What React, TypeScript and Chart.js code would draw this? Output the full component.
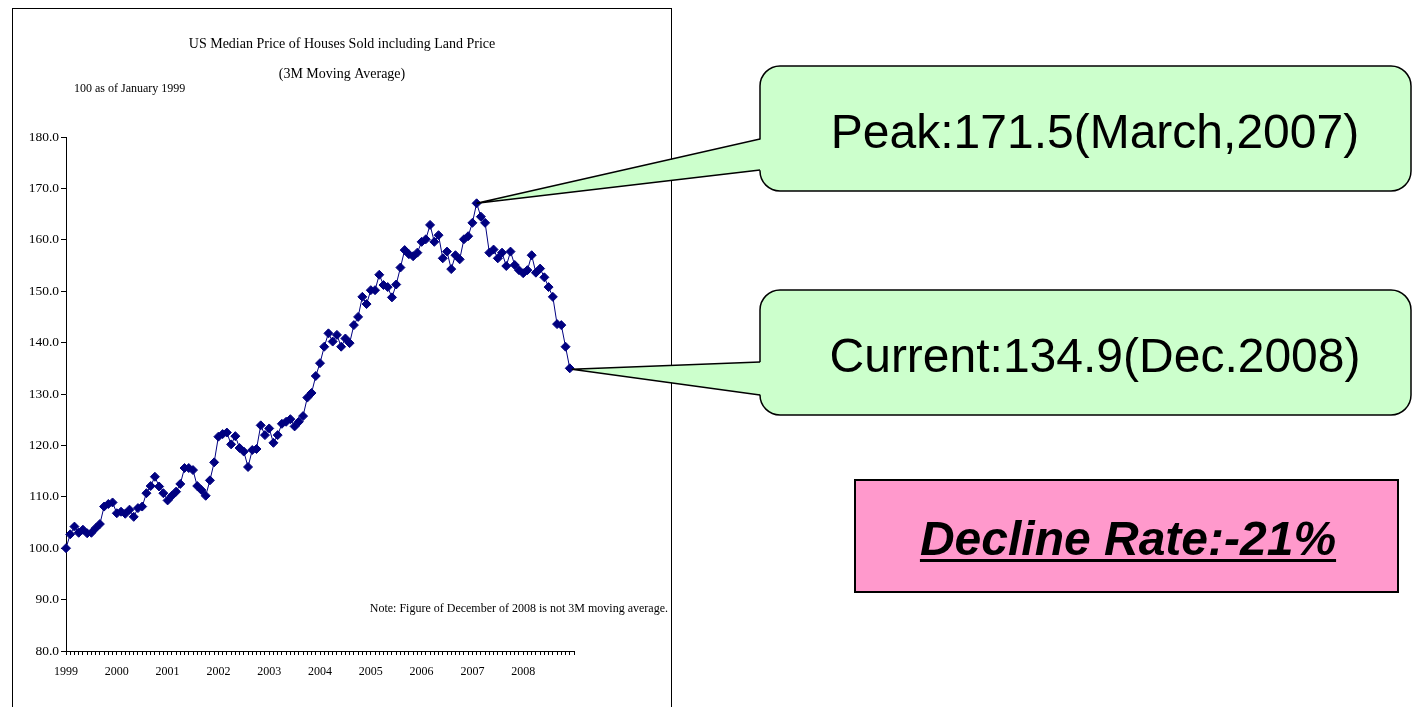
import React, { useEffect, useRef } from "react";
import { Chart, registerables } from "chart.js";

Chart.register(...registerables);

// ---- Data (index 100 = January 1999, monthly, 3M moving average) ----
const yearLabels = ["1999", "2000", "2001", "2002", "2003", "2004", "2005", "2006", "2007", "2008"];
const v1999 = [100.0, 102.7, 104.2, 103.0, 103.6, 102.9, 103.0, 103.9, 104.7, 108.1, 108.6, 108.9];
const v2000 = [106.8, 107.1, 106.7, 107.5, 106.1, 107.8, 108.1, 110.7, 112.1, 113.9, 112.0, 110.7];
const v2001 = [109.3, 110.2, 111.0, 112.5, 115.6, 115.6, 115.2, 112.1, 111.3, 110.2, 113.2, 116.7];
const v2002 = [121.7, 122.2, 122.5, 120.2, 121.8, 119.5, 118.8, 115.8, 119.1, 119.3, 123.9, 122.0];
const v2003 = [123.3, 120.5, 122.0, 124.2, 124.6, 125.1, 123.7, 124.6, 125.7, 129.3, 130.2, 133.5];
const v2004 = [136.0, 139.2, 141.8, 140.2, 141.5, 139.2, 140.8, 139.9, 143.4, 145.0, 148.9, 147.5];
const v2005 = [150.2, 150.2, 153.2, 151.2, 150.8, 148.8, 151.3, 154.6, 158.0, 157.2, 156.8, 157.5];
const v2006 = [159.6, 160.1, 162.9, 159.6, 160.9, 156.4, 157.7, 154.3, 157.0, 156.2, 160.1, 160.7];
const v2007 = [163.3, 167.1, 164.5, 163.3, 157.5, 158.1, 156.4, 157.5, 154.9, 157.7, 155.1, 154.1];
const v2008 = [153.5, 154.1, 157.0, 153.6, 154.4, 152.7, 150.8, 148.9, 143.6, 143.4, 139.2, 135.0];

const values = [...v1999, ...v2000, ...v2001, ...v2002, ...v2003, ...v2004, ...v2005, ...v2006, ...v2007, ...v2008];

const yMin = 80;
const yMax = 180;
const yStep = 10;
const xMonths = 120;

const titleLine1 = "US Median Price of Houses Sold including Land Price";
const titleLine2 = "(3M Moving Average)";
const baseNote = "100 as of January 1999";
const footNote = "Note: Figure of December of 2008 is not 3M moving average.";
const peakText = "Peak:171.5(March,2007)";
const currentText = "Current:134.9(Dec.2008)";
const declineText = "Decline Rate:-21%";

const SERIF = '"Liberation Serif", "Times New Roman", serif';
const SANS = '"Liberation Sans", Arial, sans-serif';

function roundRect(ctx: CanvasRenderingContext2D, x: number, y: number, w: number, h: number, r: number) {
  ctx.beginPath();
  ctx.moveTo(x + r, y);
  ctx.lineTo(x + w - r, y);
  ctx.arcTo(x + w, y, x + w, y + r, r);
  ctx.lineTo(x + w, y + h - r);
  ctx.arcTo(x + w, y + h, x + w - r, y + h, r);
  ctx.lineTo(x + r, y + h);
  ctx.arcTo(x, y + h, x, y + h - r, r);
  ctx.lineTo(x, y + r);
  ctx.arcTo(x, y, x + r, y, r);
  ctx.closePath();
}

function callout(
  ctx: CanvasRenderingContext2D,
  box: { x: number; y: number; w: number; h: number },
  tip: { x: number; y: number },
  j1: number,
  j2: number,
  text: string,
  textX: number,
  baseline: number
) {
  ctx.save();
  ctx.fillStyle = "#CCFFCC";
  ctx.strokeStyle = "#000";
  ctx.lineWidth = 1.5;
  roundRect(ctx, box.x, box.y, box.w, box.h, 20);
  ctx.fill();
  ctx.stroke();
  // pointer
  ctx.beginPath();
  ctx.moveTo(tip.x, tip.y);
  ctx.lineTo(box.x + 3, j1);
  ctx.lineTo(box.x + 3, j2);
  ctx.closePath();
  ctx.fill();
  ctx.beginPath();
  ctx.moveTo(box.x, j1);
  ctx.lineTo(tip.x, tip.y);
  ctx.lineTo(box.x, j2);
  ctx.stroke();
  ctx.fillStyle = "#000";
  ctx.font = `48px ${SANS}`;
  ctx.textAlign = "center";
  ctx.textBaseline = "alphabetic";
  ctx.fillText(text, textX, baseline);
  ctx.restore();
}

const decorPlugin = {
  id: "decor",
  afterDraw(chart: any) {
    const ctx: CanvasRenderingContext2D = chart.ctx;
    const xs = chart.scales.x;
    const ys = chart.scales.y;
    ctx.save();
    // frame of the chart object
    ctx.strokeStyle = "#000";
    ctx.lineWidth = 1;
    ctx.strokeRect(12.5, 8.5, 659, 720);

    ctx.fillStyle = "#000";
    ctx.textBaseline = "alphabetic";
    ctx.font = `14px ${SERIF}`;
    ctx.textAlign = "center";
    ctx.fillText(titleLine1, 342, 48);
    ctx.fillText(titleLine2, 342, 78);
    ctx.font = `12px ${SERIF}`;
    ctx.textAlign = "left";
    ctx.fillText(baseNote, 74, 92);
    ctx.textAlign = "right";
    ctx.fillText(footNote, 668, 612);
    ctx.restore();

    // callouts
    let peakIdx = 0;
    values.forEach((v, i) => {
      if (v > values[peakIdx]) peakIdx = i;
    });
    const lastIdx = values.length - 1;
    const peakTip = { x: xs.getPixelForValue(peakIdx), y: ys.getPixelForValue(values[peakIdx]) };
    const curTip = { x: xs.getPixelForValue(lastIdx) + 2, y: ys.getPixelForValue(values[lastIdx]) + 1 };

    callout(ctx, { x: 760, y: 66, w: 651, h: 125 }, peakTip, 139, 170, peakText, 1095, 148);
    callout(ctx, { x: 760, y: 290, w: 651, h: 125 }, curTip, 362, 395, currentText, 1095, 372);

    // decline box
    ctx.save();
    ctx.fillStyle = "#FF99CC";
    ctx.fillRect(855, 480, 543, 112);
    ctx.strokeStyle = "#000";
    ctx.lineWidth = 2;
    ctx.strokeRect(855, 480, 543, 112);
    ctx.fillStyle = "#000";
    ctx.font = `italic bold 48px ${SANS}`;
    ctx.textAlign = "center";
    ctx.fillText(declineText, 1128, 555);
    const w = ctx.measureText(declineText).width;
    ctx.fillRect(1128 - w / 2, 559, w, 3);
    ctx.restore();
  },
};

export default function App() {
  const canvasRef = useRef<HTMLCanvasElement | null>(null);

  useEffect(() => {
    if (!canvasRef.current) return;
    const chart = new Chart(canvasRef.current, {
      type: "line",
      data: {
        datasets: [
          {
            data: values.map((v, i) => ({ x: i, y: v })),
            borderColor: "#000080",
            backgroundColor: "#000080",
            borderWidth: 1,
            pointStyle: "rectRot",
            pointRadius: 4.5,
            pointBorderWidth: 1,
            pointBackgroundColor: "#000080",
            pointBorderColor: "#000080",
            tension: 0,
            clip: false,
          },
        ],
      },
      options: {
        animation: false,
        responsive: true,
        maintainAspectRatio: false,
        devicePixelRatio: 1,
        layout: { padding: { left: 1, top: 137, right: 839, bottom: 0 } },
        plugins: { legend: { display: false }, tooltip: { enabled: false }, title: { display: false } },
        scales: {
          x: {
            type: "linear",
            min: 0,
            max: xMonths,
            afterFit: (s: any) => {
              s.height = 56;
            },
            afterBuildTicks: (s: any) => {
              s.ticks = Array.from({ length: xMonths + 1 }, (_, i) => ({ value: i }));
            },
            grid: { display: true, drawOnChartArea: false, drawTicks: true, tickLength: 4, color: "#000", lineWidth: 1 },
            border: { display: true, color: "#000", width: 1 },
            ticks: {
              stepSize: 1,
              autoSkip: false,
              maxRotation: 0,
              minRotation: 0,
              padding: 10,
              color: "#000",
              font: { family: SERIF, size: 12 },
              callback: (v: any) => {
                const n = Number(v);
                return n % 12 === 0 && n / 12 < yearLabels.length ? yearLabels[n / 12] : "";
              },
            },
          },
          y: {
            min: yMin,
            max: yMax,
            afterFit: (s: any) => {
              s.width = 65;
            },
            grid: { display: true, drawOnChartArea: false, drawTicks: true, tickLength: 5, color: "#000", lineWidth: 1 },
            border: { display: true, color: "#000", width: 1 },
            ticks: {
              stepSize: yStep,
              padding: 2,
              color: "#000",
              font: { family: SERIF, size: 13.5 },
              callback: (v: any) => Number(v).toFixed(1),
            },
          },
        },
      },
      plugins: [decorPlugin],
    });
    return () => chart.destroy();
  }, []);

  return (
    <div style={{ position: "absolute", left: 0, top: 0, width: 1413, height: 707, background: "#fff" }}>
      <canvas ref={canvasRef} />
    </div>
  );
}
